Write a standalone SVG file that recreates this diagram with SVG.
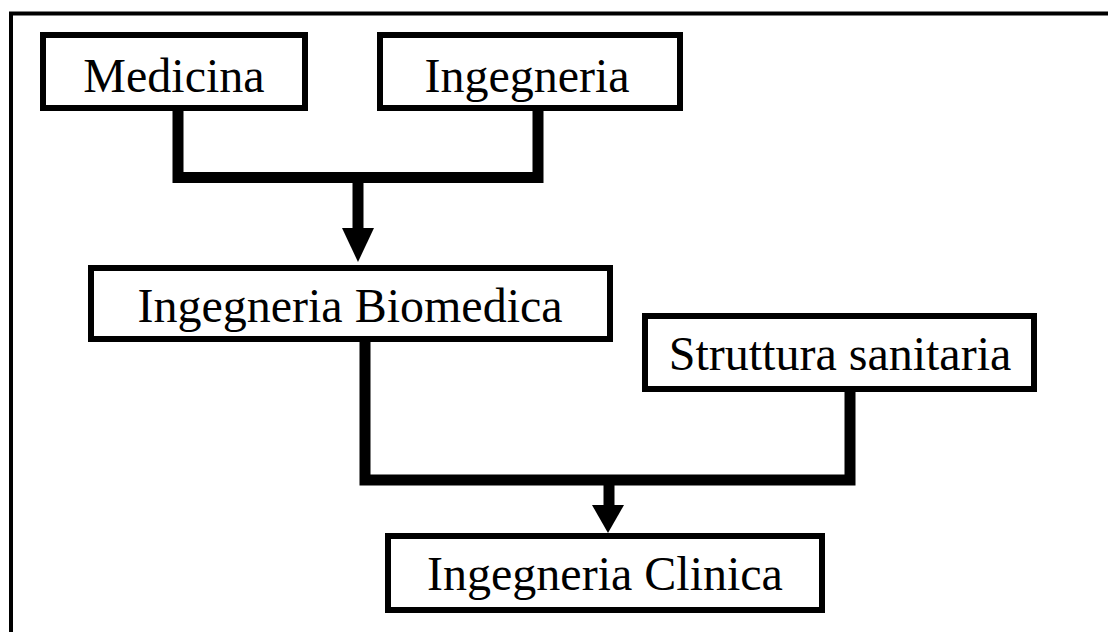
<svg xmlns="http://www.w3.org/2000/svg" width="1108" height="632" viewBox="0 0 1108 632">
<style>
.box{fill:#fff;stroke:#000;stroke-width:6}
.lbl{font-family:"Liberation Serif","Times New Roman",serif;font-size:48px;fill:#000;text-anchor:middle}
.conn{fill:none;stroke:#000;stroke-width:11;stroke-linejoin:miter}
</style>
<rect x="0" y="0" width="1108" height="632" fill="#fff"/>
<path d="M11 640 V13.5 H1120" fill="none" stroke="#000" stroke-width="4"/>
<g id="connectors">
<path class="conn" d="M178 111 V177.5 H538 V111"/>
<path class="conn" d="M358 177.5 V232"/>
<polygon points="342,228 374,228 358,262" fill="#000"/>
<path class="conn" d="M365 342 V480 H850 V392"/>
<path class="conn" d="M609 480 V508"/>
<polygon points="592,505 624,505 608,533" fill="#000"/>
</g>
<g id="medicina">
<rect class="box" x="43" y="35" width="262" height="73"/>
<text class="lbl" x="174" y="92">Medicina</text>
</g>
<g id="ingegneria">
<rect class="box" x="380" y="35" width="300" height="73"/>
<text class="lbl" x="527" y="92">Ingegneria</text>
</g>
<g id="biomedica">
<rect class="box" x="91" y="268" width="519" height="71"/>
<text class="lbl" x="350" y="322">Ingegneria Biomedica</text>
</g>
<g id="struttura">
<rect class="box" x="645" y="316" width="389" height="73"/>
<text class="lbl" x="840" y="370">Struttura sanitaria</text>
</g>
<g id="clinica">
<rect class="box" x="388" y="536" width="434" height="74"/>
<text class="lbl" x="605" y="590">Ingegneria Clinica</text>
</g>
</svg>
